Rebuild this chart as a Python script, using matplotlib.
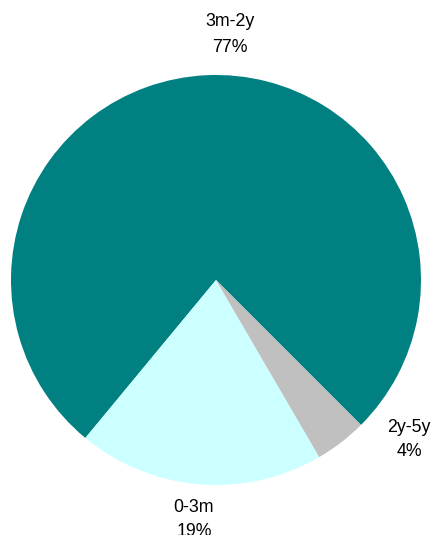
import matplotlib
matplotlib.use("Agg")
import matplotlib.pyplot as plt

categories = ["3m-2y", "0-3m", "2y-5y"]
values = [76.5, 19.4, 4.1]
colors = ["#008080", "#CCFFFF", "#C0C0C0"]
pct_labels = ["77%", "19%", "4%"]

W, H = 432, 535
fig = plt.figure(figsize=(W / 100, H / 100), dpi=100)
ax = fig.add_axes([0, 0, 1, 1])
cx, cy, R = 216, 280, 205  # pixel center / radius
ax.pie(values, colors=colors, startangle=-45, counterclock=True,
       radius=1, center=(0, 0), wedgeprops=dict(linewidth=0))
ax.set_xlim(-cx / R, (W - cx) / R)
ax.set_ylim(-(H - cy) / R, cy / R)
ax.set_aspect("equal")
ax.axis("off")

# label positions in pixel coords (name line, percent line)
label_pos = {"3m-2y": (230, 22, 47), "0-3m": (194, 507, 531), "2y-5y": (409, 428, 452)}
font = dict(family="Liberation Sans", fontsize=12.8, color="#000000", ha="center", va="center")
for cat, pct in zip(categories, pct_labels):
    x, y1, y2 = label_pos[cat]
    ax.text((x - cx) / R, (cy - y1) / R, cat, **font)
    ax.text((x - cx) / R, (cy - y2) / R, pct, **font)

fig.savefig("out.png", dpi=100)
